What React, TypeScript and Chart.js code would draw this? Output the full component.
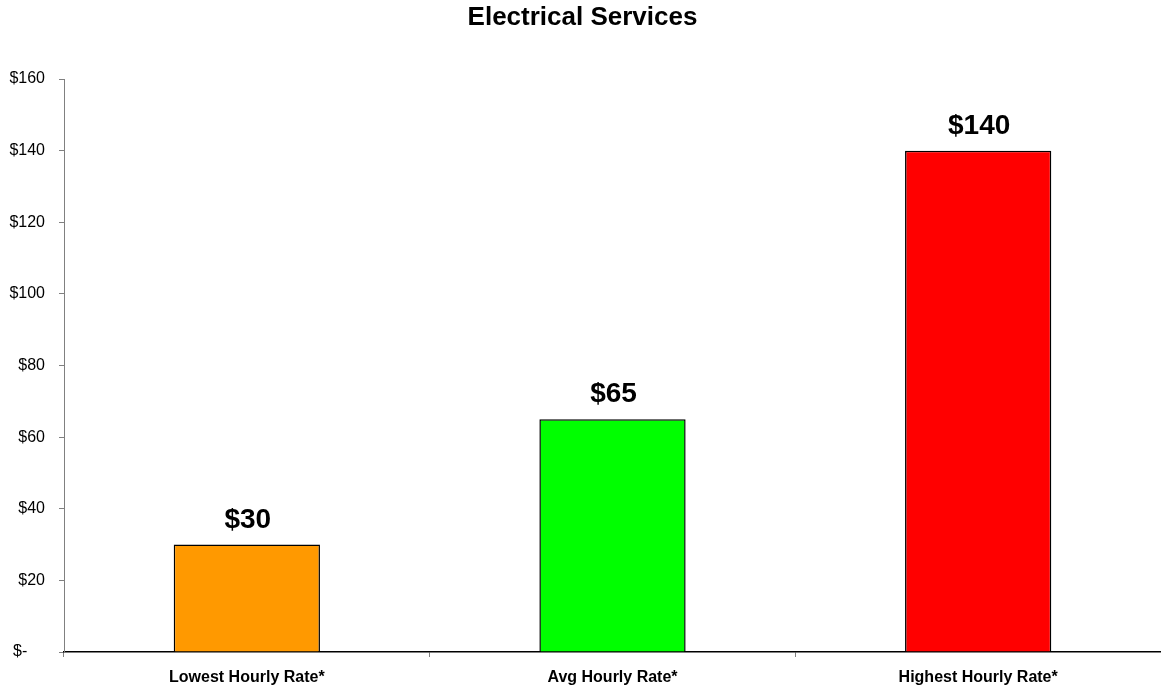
import React, { useEffect, useRef } from "react";
import { Chart, registerables } from "chart.js";

Chart.register(...registerables);

const TITLE = "Electrical Services";
const categories = ["Lowest Hourly Rate*", "Avg Hourly Rate*", "Highest Hourly Rate*"];
const rates = [30, 65, 140];
const barColors = ["#FF9900", "#00FF00", "#FF0000"];
const yTickValues = [0, 20, 40, 60, 80, 100, 120, 140, 160];

const FONT = "Arial, 'Liberation Sans', sans-serif";

const fmt = (v: number) => (v === 0 ? "$-    " : "$" + v);

const titlePlugin = {
  id: "customTitle",
  afterDraw(chart: any) {
    const ctx = chart.ctx;
    ctx.save();
    ctx.font = `bold 26px ${FONT}`;
    ctx.fillStyle = "#000";
    ctx.textAlign = "center";
    ctx.textBaseline = "middle";
    ctx.fillText(TITLE, chart.width / 2 + 2, 18);
    ctx.restore();
  },
};

const valueLabels = {
  id: "valueLabels",
  afterDatasetsDraw(chart: any) {
    const ctx = chart.ctx;
    const meta = chart.getDatasetMeta(0);
    ctx.save();
    ctx.font = `bold 28px ${FONT}`;
    ctx.fillStyle = "#000";
    ctx.textAlign = "center";
    ctx.textBaseline = "alphabetic";
    meta.data.forEach((el: any, i: number) => {
      ctx.fillText("$" + rates[i], el.x + 1, el.y - 17);
    });
    ctx.restore();
  },
};

export default function App() {
  const ref = useRef<HTMLCanvasElement>(null);
  useEffect(() => {
    const chart = new Chart(ref.current!, {
      type: "bar",
      data: {
        labels: categories,
        datasets: [
          {
            data: rates,
            backgroundColor: barColors,
            borderColor: "#000",
            borderWidth: 1.5,
            barPercentage: 0.4,
            categoryPercentage: 1,
          },
        ],
      },
      options: {
        animation: false,
        responsive: false,
        layout: { padding: { top: 79, right: 0, left: 0, bottom: 0 } },
        plugins: { legend: { display: false }, title: { display: false }, tooltip: { enabled: false } },
        scales: {
          x: {
            grid: { display: true, drawOnChartArea: false, offset: true, tickLength: 5, color: "#808080" },
            border: { color: "#000", width: 1.5 },
            ticks: { color: "#000", font: { family: FONT, size: 16, weight: "bold" }, padding: 11, maxRotation: 0 },
            afterFit(scale: any) {
              scale.height = 33;
            },
          },
          y: {
            min: 0,
            max: 160,
            afterBuildTicks(scale: any) {
              scale.ticks = yTickValues.map((v) => ({ value: v }));
            },
            grid: { display: true, drawOnChartArea: false, tickLength: 5, color: "#808080" },
            border: { color: "#808080", width: 1 },
            ticks: {
              color: "#000",
              font: { family: FONT, size: 16 },
              padding: 14,
              callback: (v: any) => fmt(Number(v)),
            },
            afterFit(scale: any) {
              scale.width = 64;
            },
          },
        },
      },
      plugins: [titlePlugin, valueLabels],
    });
    return () => chart.destroy();
  }, []);
  return (
    <div style={{ position: "fixed", left: 0, top: 0, width: 1161, height: 685, background: "#fff" }}>
      <canvas ref={ref} width={1161} height={685} style={{ display: "block" }} />
    </div>
  );
}
